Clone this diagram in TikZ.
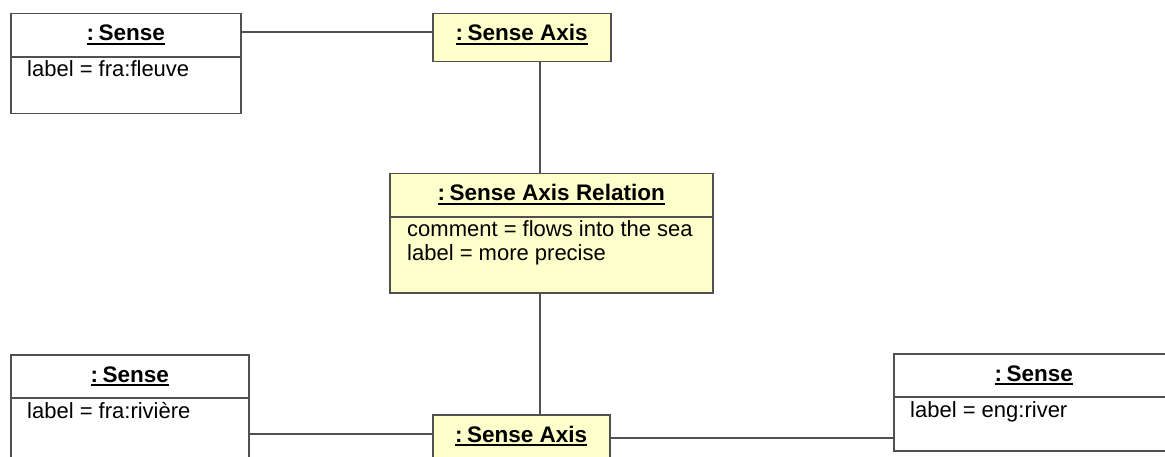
\documentclass[tikz,border=0pt]{standalone}
\usepackage{fontspec}
\setmainfont{Liberation Sans}
\newcommand\myul[1]{\setbox0\hbox{#1}\leavevmode\rlap{\rule[-4.4pt]{\wd0}{2.8pt}}\box0}
\definecolor{objyellow}{HTML}{FFFFCC}
\definecolor{edgegray}{HTML}{505050}
\tikzset{
  objbox/.style={draw=edgegray, line width=1.5pt, rectangle, inner sep=0pt, anchor=north west},
  hdr/.style={font=\fontsize{22.5}{26}\selectfont\bfseries, inner sep=0pt, text=black, anchor=base},
  attr/.style={font=\fontsize{22}{24}\selectfont, inner sep=0pt, anchor=base west, text=black},
  conn/.style={draw=edgegray, line width=1.6pt},
  divline/.style={draw=edgegray, line width=1.5pt}
}
\begin{document}
\begin{tikzpicture}[x=1pt,y=-1pt]
\useasboundingbox[fill=white] (0,0) rectangle (1165,457);
\clip (0,0) rectangle (1165,457);
% Sense 1
\node[objbox, minimum width=230pt, minimum height=100pt] (s1) at (10,13) {};
\draw[divline] ([yshift=-44pt]s1.north west) -- ([yshift=-44pt]s1.north east);
\node[hdr] (s1h) at ([yshift=-28pt]s1.north) {\myul{:\kern0.2em Sense}};
\node[attr] (s1a) at ([xshift=17pt,yshift=-64pt]s1.north west) {label = fra:fleuve};
% Sense Axis 1
\node[objbox, fill=objyellow, minimum width=178pt, minimum height=48pt] (sa1) at (432,13) {};
\node[hdr] (sa1h) at ([yshift=-28pt]sa1.north) {\myul{:\kern0.2em Sense Axis}};
% Sense Axis Relation
\node[objbox, fill=objyellow, minimum width=323pt, minimum height=119pt] (sar) at (389,173) {};
\draw[divline] ([yshift=-44pt]sar.north west) -- ([yshift=-44pt]sar.north east);
\node[hdr] (sarh) at ([yshift=-28pt]sar.north) {\myul{:\kern0.2em Sense Axis Relation}};
\node[attr] (sara) at ([xshift=18pt,yshift=-64pt]sar.north west) {comment = flows into the sea};
\node[attr] (sarb) at ([xshift=18pt,yshift=-88pt]sar.north west) {label = more precise};
% Sense 2
\node[objbox, minimum width=238pt, minimum height=110pt] (s2) at (10,354) {};
\draw[divline] ([yshift=-44pt]s2.north west) -- ([yshift=-44pt]s2.north east);
\node[hdr] (s2h) at ([yshift=-28pt]s2.north) {\myul{:\kern0.2em Sense}};
\node[attr] (s2a) at ([xshift=17pt,yshift=-64pt]s2.north west) {label = fra:rivière};
% Sense Axis 2
\node[objbox, fill=objyellow, minimum width=177pt, minimum height=48pt] (sa2) at (432,414) {};
\node[hdr] (sa2h) at ([yshift=-28pt]sa2.north) {\myul{:\kern0.2em Sense Axis}};
% Sense 3
\node[objbox, minimum width=280pt, minimum height=97pt] (s3) at (893,353) {};
\draw[divline] ([yshift=-44pt]s3.north west) -- ([yshift=-44pt]s3.north east);
\node[hdr] (s3h) at ([yshift=-28pt]s3.north) {\myul{:\kern0.2em Sense}};
\node[attr] (s3a) at ([xshift=17pt,yshift=-64pt]s3.north west) {label = eng:river};
% connectors
\draw[conn] ([yshift=-19pt]s1.north east) -- ([yshift=-19pt]sa1.north west);
\draw[conn] ([xshift=18pt]sa1.south) -- ([xshift=18pt]sa1.south |- sar.north);
\draw[conn] ([xshift=-11.5pt]sar.south) -- ([xshift=-11.5pt]sar.south |- sa2.north);
\draw[conn] ([yshift=-20pt]sa2.north west -| s2.east) -- ([yshift=-20pt]sa2.north west);
\draw[conn] ([yshift=-24pt]sa2.north east) -- ([yshift=-24pt]sa2.north east -| s3.west);
\end{tikzpicture}
\end{document}
